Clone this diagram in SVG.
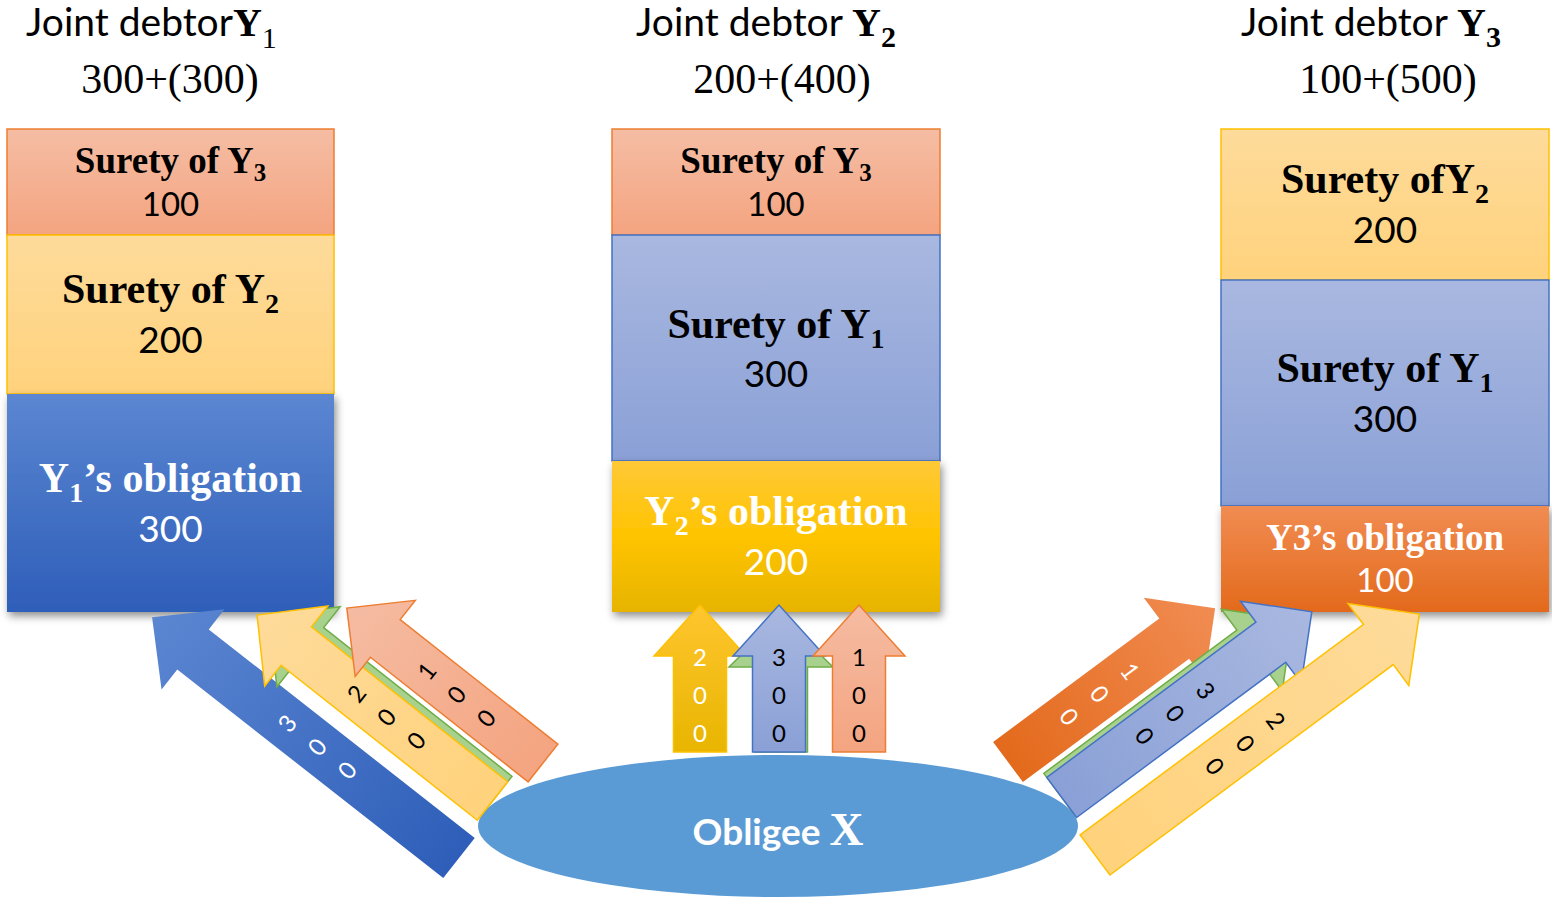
<svg xmlns="http://www.w3.org/2000/svg" width="1552" height="900" viewBox="0 0 1552 900">
  <defs>
    <style>
      .hdr{font-family:Lato,"Liberation Sans",sans-serif;font-size:39px;fill:#000}
      .sum{font-family:"Liberation Serif",serif;font-size:42px;fill:#000;text-anchor:middle}
      .tb{font-family:"Liberation Serif",serif;font-weight:bold}
      .tr{font-family:"Liberation Serif",serif}
      .lbl{font-family:"Liberation Serif",serif;font-weight:bold;text-anchor:middle}
      .amt{font-family:Lato,"Liberation Sans",sans-serif;text-anchor:middle}
      .dg{font-family:Lato,"Liberation Sans",sans-serif;font-size:24px;text-anchor:middle;dominant-baseline:central}
      .w{fill:#fff}
      .k{fill:#000}
      .ln{stroke-width:1.5}
      .echo{fill:#A9D18E;stroke:#70AD47;stroke-width:1.5}
    </style>
    <!-- box fills -->
    <linearGradient id="gSalmon" x1="0" y1="0" x2="0" y2="1"><stop offset="0" stop-color="#F5BDA4"/><stop offset="1" stop-color="#F4A480"/></linearGradient>
    <linearGradient id="gLYellow" x1="0" y1="0" x2="0" y2="1"><stop offset="0" stop-color="#FEDB9B"/><stop offset="1" stop-color="#FFD27C"/></linearGradient>
    <linearGradient id="gBlue" x1="0" y1="0" x2="0" y2="1"><stop offset="0" stop-color="#5B86D1"/><stop offset="1" stop-color="#2E5EB9"/></linearGradient>
    <linearGradient id="gSlate" x1="0" y1="0" x2="0" y2="1"><stop offset="0" stop-color="#A9B8E0"/><stop offset="1" stop-color="#8AA0D6"/></linearGradient>
    <linearGradient id="gGold" x1="0" y1="0" x2="0" y2="1"><stop offset="0" stop-color="#FFC937"/><stop offset="0.5" stop-color="#FFC400"/><stop offset="1" stop-color="#E6B400"/></linearGradient>
    <linearGradient id="gOrange" x1="0" y1="0" x2="0" y2="1"><stop offset="0" stop-color="#F18C52"/><stop offset="1" stop-color="#E36A1C"/></linearGradient>
    <!-- arrow fills, running tail to tip -->
    <linearGradient id="aBlue" x1="0" y1="0" x2="1" y2="0"><stop offset="0" stop-color="#2E5EB9"/><stop offset="1" stop-color="#5B86D1"/></linearGradient>
    <linearGradient id="aSalmon" x1="0" y1="0" x2="1" y2="0"><stop offset="0" stop-color="#F4A480"/><stop offset="1" stop-color="#F5BCA3"/></linearGradient>
    <linearGradient id="aLYellow" x1="0" y1="0" x2="1" y2="0"><stop offset="0" stop-color="#FFD27C"/><stop offset="1" stop-color="#FEDB9B"/></linearGradient>
    <linearGradient id="aSlate" x1="0" y1="0" x2="1" y2="0"><stop offset="0" stop-color="#8AA0D6"/><stop offset="1" stop-color="#A9B8E0"/></linearGradient>
    <linearGradient id="aGold" x1="0" y1="0" x2="1" y2="0"><stop offset="0" stop-color="#E8B500"/><stop offset="1" stop-color="#FFC62F"/></linearGradient>
    <linearGradient id="aOrange" x1="0" y1="0" x2="1" y2="0"><stop offset="0" stop-color="#E36A1C"/><stop offset="1" stop-color="#F18C52"/></linearGradient>
    <filter id="shadow" x="-10%" y="-10%" width="125%" height="130%">
      <feDropShadow dx="2" dy="4" stdDeviation="4" flood-color="#000" flood-opacity="0.45"/>
    </filter>
  </defs>

  <rect width="1552" height="900" fill="#fff"/>

  <!-- column headings -->
  <g id="debtor-y1-heading">
    <text class="hdr" x="26" y="36">Joint debtor<tspan class="tb" font-size="40">Y</tspan><tspan class="tr" font-size="30" dy="12">1</tspan></text>
    <text class="sum" x="170" y="93">300+(300)</text>
  </g>
  <g id="debtor-y2-heading">
    <text class="hdr" x="636" y="36">Joint debtor <tspan class="tb" font-size="40">Y</tspan><tspan class="tb" font-size="30" dy="11">2</tspan></text>
    <text class="sum" x="782" y="93">200+(400)</text>
  </g>
  <g id="debtor-y3-heading">
    <text class="hdr" x="1241" y="36">Joint debtor <tspan class="tb" font-size="40">Y</tspan><tspan class="tb" font-size="30" dy="11">3</tspan></text>
    <text class="sum" x="1388" y="93">100+(500)</text>
  </g>

  <!-- column Y1 -->
  <g id="y1-surety-y3">
    <rect x="7" y="129" width="327" height="106" fill="url(#gSalmon)" stroke="#ED7D31" class="ln"/>
    <text class="lbl k" x="170.5" y="173" font-size="37">Surety of Y<tspan font-size="25" dy="8">3</tspan></text>
    <text class="amt k" x="170.5" y="216" font-size="33">100</text>
  </g>
  <g id="y1-surety-y2">
    <rect x="7" y="235" width="327" height="159" fill="url(#gLYellow)" stroke="#FFC000" class="ln"/>
    <text class="lbl k" x="170.5" y="303" font-size="42">Surety of Y<tspan font-size="28" dy="10">2</tspan></text>
    <text class="amt k" x="170.5" y="353" font-size="37">200</text>
  </g>
  <g id="y1-obligation">
    <rect x="7" y="394" width="327" height="218" fill="url(#gBlue)" filter="url(#shadow)"/>
    <text class="lbl w" x="170.5" y="492" font-size="42">Y<tspan font-size="28" dy="10">1</tspan><tspan dy="-10">’s obligation</tspan></text>
    <text class="amt w" x="170.5" y="542" font-size="37">300</text>
  </g>

  <!-- column Y2 -->
  <g id="y2-surety-y3">
    <rect x="612" y="129" width="328" height="106" fill="url(#gSalmon)" stroke="#ED7D31" class="ln"/>
    <text class="lbl k" x="776" y="173" font-size="37">Surety of Y<tspan font-size="25" dy="8">3</tspan></text>
    <text class="amt k" x="776" y="216" font-size="33">100</text>
  </g>
  <g id="y2-surety-y1">
    <rect x="612" y="235" width="328" height="226" fill="url(#gSlate)" stroke="#4472C4" class="ln"/>
    <text class="lbl k" x="776" y="338" font-size="42">Surety of Y<tspan font-size="28" dy="10">1</tspan></text>
    <text class="amt k" x="776" y="387" font-size="37">300</text>
  </g>
  <g id="y2-obligation">
    <rect x="612" y="461" width="328" height="151" fill="url(#gGold)" filter="url(#shadow)"/>
    <text class="lbl w" x="776" y="525" font-size="42">Y<tspan font-size="28" dy="10">2</tspan><tspan dy="-10">’s obligation</tspan></text>
    <text class="amt w" x="776" y="575" font-size="37">200</text>
  </g>

  <!-- column Y3 -->
  <g id="y3-surety-y2">
    <rect x="1221" y="129" width="328" height="151" fill="url(#gLYellow)" stroke="#FFC000" class="ln"/>
    <text class="lbl k" x="1385" y="193" font-size="42">Surety ofY<tspan font-size="28" dy="10">2</tspan></text>
    <text class="amt k" x="1385" y="243" font-size="37">200</text>
  </g>
  <g id="y3-surety-y1">
    <rect x="1221" y="280" width="328" height="226" fill="url(#gSlate)" stroke="#4472C4" class="ln"/>
    <text class="lbl k" x="1385" y="382" font-size="42">Surety of Y<tspan font-size="28" dy="10">1</tspan></text>
    <text class="amt k" x="1385" y="432" font-size="37">300</text>
  </g>
  <g id="y3-obligation">
    <rect x="1221" y="506" width="328" height="106" fill="url(#gOrange)" filter="url(#shadow)"/>
    <text class="lbl w" x="1385" y="550" font-size="37">Y3’s obligation</text>
    <text class="amt w" x="1385" y="592" font-size="33">100</text>
  </g>

  <!-- obligee -->
  <g id="obligee-x">
    <ellipse cx="778" cy="826" rx="300" ry="71" fill="#5B9BD5"/>
    <text x="778" y="845" text-anchor="middle" fill="#fff"><tspan font-family="Lato, 'Liberation Sans', sans-serif" font-weight="bold" font-size="37">Obligee </tspan><tspan class="tb" font-size="47">X</tspan></text>
  </g>

  <!-- payment arrows from the obligee to each debtor's column -->
  <g id="connectors">
    <!-- to Y1 -->
    <g transform="translate(459,858) rotate(218.1)">
      <path d="M0,-25.5H338V-51L390,0L338,51V25.5H0Z" fill="url(#aBlue)"/>
      <text class="dg w" transform="translate(219,0) rotate(90)">3</text>
      <text class="dg w" transform="translate(181,0) rotate(90)">0</text>
      <text class="dg w" transform="translate(143,0) rotate(90)">0</text>
    </g>
    <g transform="translate(492.5,801) rotate(218.3)">
      <path class="echo" d="M0,-24.5H240V-51L290,0L240,51V24.5H0Z" transform="translate(0,7)"/>
      <path d="M0,-24.5H250V-51L300,0L250,51V24.5H0Z" fill="url(#aLYellow)" stroke="#FFC000" class="ln"/>
      <text class="dg k" transform="translate(174,0) rotate(90)">2</text>
      <text class="dg k" transform="translate(136,0) rotate(90)">0</text>
      <text class="dg k" transform="translate(98,0) rotate(90)">0</text>
    </g>
    <g transform="translate(543,763) rotate(218.3)">
      <path d="M0,-24H201V-48.5L250,0L201,48.5V24H0Z" fill="url(#aSalmon)" stroke="#ED7D31" class="ln"/>
      <text class="dg k" transform="translate(149,0) rotate(90)">1</text>
      <text class="dg k" transform="translate(111,0) rotate(90)">0</text>
      <text class="dg k" transform="translate(73,0) rotate(90)">0</text>
    </g>

    <!-- to Y2 -->
    <g transform="translate(700,752) rotate(-90)">
      <path d="M0,-26.5H96V-46L147,0L96,46V26.5H0Z" fill="url(#aGold)" stroke="#FFC000" class="ln"/>
      <text class="dg w" transform="translate(96,0) rotate(90)">2</text>
      <text class="dg w" transform="translate(58,0) rotate(90)">0</text>
      <text class="dg w" transform="translate(20,0) rotate(90)">0</text>
    </g>
    <g transform="translate(779,752) rotate(-90)">
      <path class="echo" d="M0,-26.5H85V-52L136,0L85,52V26.5H0Z" transform="translate(0,2)"/>
      <path d="M0,-26.5H96V-46L147,0L96,46V26.5H0Z" fill="url(#aSlate)" stroke="#4472C4" class="ln"/>
      <text class="dg k" transform="translate(96,0) rotate(90)">3</text>
      <text class="dg k" transform="translate(58,0) rotate(90)">0</text>
      <text class="dg k" transform="translate(20,0) rotate(90)">0</text>
    </g>
    <g transform="translate(859,752) rotate(-90)">
      <path d="M0,-26.5H96V-46L147,0L96,46V26.5H0Z" fill="url(#aSalmon)" stroke="#ED7D31" class="ln"/>
      <text class="dg k" transform="translate(96,0) rotate(90)">1</text>
      <text class="dg k" transform="translate(58,0) rotate(90)">0</text>
      <text class="dg k" transform="translate(20,0) rotate(90)">0</text>
    </g>

    <!-- to Y3 -->
    <g transform="translate(1008,762) rotate(-36.6)">
      <path d="M0,-25H207V-51L258,0L207,51V25H0Z" fill="url(#aOrange)"/>
      <text class="dg w" transform="translate(153,0) rotate(90)">1</text>
      <text class="dg w" transform="translate(115,0) rotate(90)">0</text>
      <text class="dg w" transform="translate(77,0) rotate(90)">0</text>
    </g>
    <g transform="translate(1061.7,797.5) rotate(-36.6)">
      <path class="echo" d="M0,-25H240.5V-51L291.5,0L240.5,51V25H0Z" transform="translate(0,-5)"/>
      <path d="M0,-25H260.5V-51L311.5,0L260.5,51V25H0Z" fill="url(#aSlate)" stroke="#4472C4" class="ln"/>
      <text class="dg k" transform="translate(180,0) rotate(90)">3</text>
      <text class="dg k" transform="translate(142,0) rotate(90)">0</text>
      <text class="dg k" transform="translate(104,0) rotate(90)">0</text>
    </g>
    <g transform="translate(1095,855) rotate(-36.6)">
      <path d="M0,-25H353V-51L404,0L353,51V25H0Z" fill="url(#aLYellow)" stroke="#FFC000" class="ln"/>
      <text class="dg k" transform="translate(226,0) rotate(90)">2</text>
      <text class="dg k" transform="translate(188,0) rotate(90)">0</text>
      <text class="dg k" transform="translate(150,0) rotate(90)">0</text>
    </g>
  </g>
</svg>
